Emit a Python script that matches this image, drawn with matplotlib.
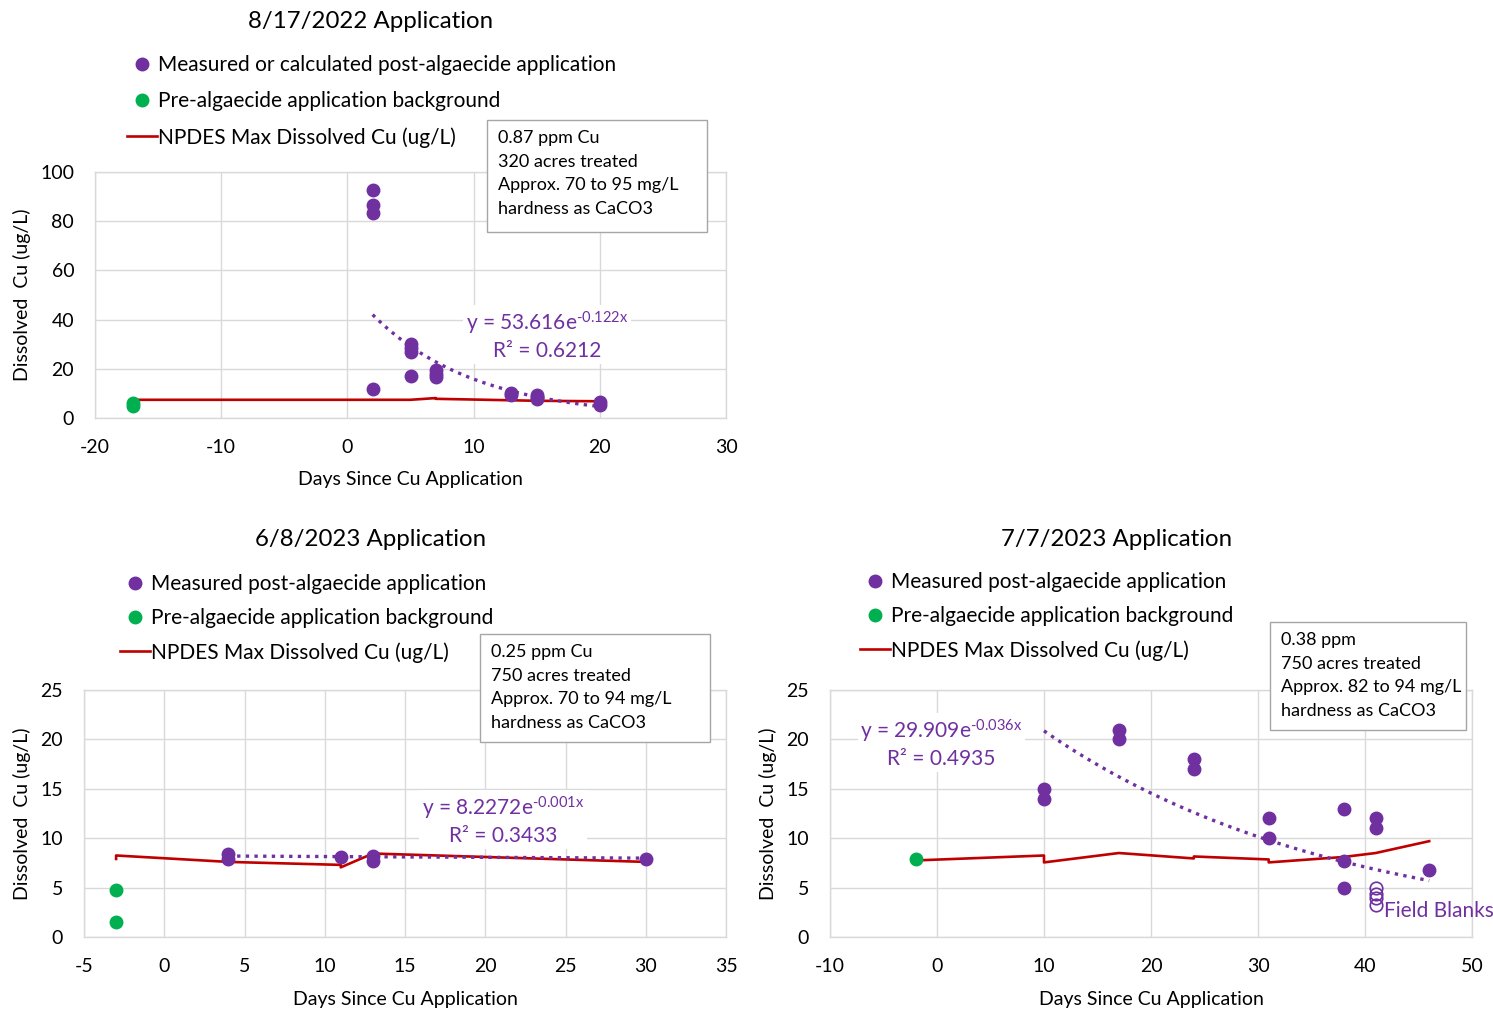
import numpy as np
import matplotlib

matplotlib.use("Agg")
import matplotlib.pyplot as plt
from matplotlib.lines import Line2D
from matplotlib.patches import Rectangle

plt.rcParams["font.family"] = ["Lato", "DejaVu Sans"]
plt.rcParams["mathtext.fontset"] = "custom"
plt.rcParams["mathtext.rm"] = "Lato"
plt.rcParams["mathtext.it"] = "Lato:italic"
plt.rcParams["axes.unicode_minus"] = False

PURPLE = "#7030A0"
GREEN = "#00B050"
RED = "#C00000"
GRID = "#D9D9D9"

# ---- 8/17/2022 application ----
a1_post_x = [2, 2, 2, 2, 5, 5, 5, 5, 7, 7, 7, 13, 13, 15, 15, 15, 20, 20]
a1_post_y = [92.5, 86.5, 83.3, 11.8, 30, 28.5, 27, 17, 19.5, 18, 16.5, 10, 9.5, 9.5, 8.5, 7.8, 6.5, 5.2]
a1_pre_x = [-17, -17]
a1_pre_y = [6.1, 4.8]
a1_npdes_x = [-17, 5, 7, 7, 13, 15, 20]
a1_npdes_y = [7.4, 7.4, 8.1, 7.8, 7.2, 7.0, 6.8]
a1_fit = (53.616, -0.122, 2, 20)
a1_fit_label = "y = 53.616e$^{\\mathrm{\u20100.122x}}$\nR\u00b2 = 0.6212"
a1_note = "0.87 ppm Cu\n320 acres treated\nApprox. 70 to 95 mg/L\nhardness as CaCO3"
a1_labels = ["Measured or calculated post-algaecide application",
             "Pre-algaecide application background",
             "NPDES Max Dissolved Cu (ug/L)"]

# ---- 6/8/2023 application ----
a2_post_x = [4, 4, 11, 13, 13, 30]
a2_post_y = [8.4, 7.9, 8.1, 8.2, 7.7, 7.9]
a2_pre_x = [-3, -3]
a2_pre_y = [4.8, 1.5]
a2_npdes_x = [-3, -3, 4, 11, 11, 13, 30]
a2_npdes_y = [7.9, 8.25, 7.6, 7.3, 7.05, 8.45, 7.6]
a2_fit = (8.2272, -0.001, 4, 30)
a2_fit_label = "y = 8.2272e$^{\\mathrm{\u20100.001x}}$\nR\u00b2 = 0.3433"
a2_note = "0.25 ppm Cu\n750 acres treated\nApprox. 70 to 94 mg/L\nhardness as CaCO3"
a2_labels = ["Measured post-algaecide application",
             "Pre-algaecide application background",
             "NPDES Max Dissolved Cu (ug/L)"]

# ---- 7/7/2023 application ----
a3_post_x = [10, 10, 17, 17, 24, 24, 31, 31, 38, 38, 38, 41, 41, 46]
a3_post_y = [15, 14, 21, 20, 18, 17, 12, 10, 13, 7.7, 5, 12, 11, 6.8]
a3_pre_x = [-2]
a3_pre_y = [7.9]
a3_blank_x = [41, 41, 41, 41]
a3_blank_y = [5.0, 4.4, 3.9, 3.2]
a3_npdes_x = [-2, 10, 10, 17, 24, 24, 31, 31, 38, 41, 46]
a3_npdes_y = [7.75, 8.25, 7.55, 8.5, 7.95, 8.15, 7.85, 7.55, 8.1, 8.5, 9.7]
a3_fit = (29.909, -0.036, 10, 46)
a3_fit_label = "y = 29.909e$^{\\mathrm{\u20100.036x}}$\nR\u00b2 = 0.4935"
a3_note = "0.38 ppm\n750 acres treated\nApprox. 82 to 94 mg/L\nhardness as CaCO3"
a3_labels = a2_labels

W, H = 1493, 1011
fig = plt.figure(figsize=(W / 100, H / 100), dpi=100)


def fx(px):
    return px / W


def fy(py):
    return 1 - py / H


def panel(box, xlim, xstep, ylim, ystep, post, pre, npdes, fit, fit_label, fit_pos,
          title, title_pos, labels, leg_pos, leg_space, note, note_box, ylab_x):
    left, top, right, bottom = box
    ax = fig.add_axes([fx(left), fy(bottom), (right - left) / W, (bottom - top) / H])
    ax.set_xlim(*xlim)
    ax.set_ylim(*ylim)
    ax.set_xticks(np.arange(xlim[0], xlim[1] + 0.1, xstep))
    ax.set_yticks(np.arange(ylim[0], ylim[1] + 0.1, ystep))
    ax.grid(True, color=GRID, linewidth=1.0)
    ax.set_axisbelow(True)
    for s in ax.spines.values():
        s.set_color(GRID)
        s.set_linewidth(1.0)
    ax.tick_params(length=0, labelsize=14, pad=15)

    ax.plot(npdes[0], npdes[1], color=RED, linewidth=1.9, zorder=3)
    ax.plot(post[0], post[1], "o", color=PURPLE, markersize=9, zorder=4)
    ax.plot(pre[0], pre[1], "o", color=GREEN, markersize=9, zorder=4)
    a, b, x0, x1 = fit
    xs = np.linspace(x0, x1, 100)
    ax.plot(xs, a * np.exp(b * xs), linestyle=(0, (1, 1.6)), color=PURPLE,
            linewidth=2.4, zorder=5)
    ax.text(fit_pos[0], fit_pos[1], fit_label, color=PURPLE, fontsize=15,
            ha="center", va="center", linespacing=1.25, zorder=6,
            bbox=dict(facecolor="white", edgecolor="none", pad=2))

    fig.text(fx(title_pos[0]), fy(title_pos[1]), title, fontsize=17.3,
             ha="center", va="center")
    fig.text(fx(ylab_x), fy((top + bottom) / 2), "Dissolved  Cu (ug/L)",
             rotation=90, fontsize=14, ha="center", va="center")
    fig.text(fx((left + right) / 2), fy(bottom + 62), "Days Since Cu Application",
             fontsize=14, ha="center", va="center")

    handles = [
        Line2D([], [], marker="o", linestyle="none", color=PURPLE, markersize=9),
        Line2D([], [], marker="o", linestyle="none", color=GREEN, markersize=9),
        Line2D([], [], color=RED, linewidth=1.9),
    ]
    ax.legend(handles, labels, loc="upper left", bbox_to_anchor=(fx(leg_pos[0]), fy(leg_pos[1])),
              bbox_transform=fig.transFigure, frameon=False, fontsize=15,
              handlelength=1.45, handletextpad=0.05, labelspacing=leg_space, borderpad=0,
              borderaxespad=0)

    nl, nt, nr, nb = note_box
    fig.add_artist(Rectangle((fx(nl), fy(nb)), (nr - nl) / W, (nb - nt) / H,
                             transform=fig.transFigure, facecolor="white",
                             edgecolor="#A6A6A6", linewidth=1.0, zorder=5))
    fig.text(fx(nl + 11), fy(nt + 10), note, fontsize=13, ha="left", va="top",
             linespacing=1.58, zorder=6)
    return ax


panel((95, 172, 726, 418), (-20, 30), 10, (0, 100), 20,
      (a1_post_x, a1_post_y), (a1_pre_x, a1_pre_y), (a1_npdes_x, a1_npdes_y),
      a1_fit, a1_fit_label, (15.8, 33.5), "8/17/2022 Application", (371, 21),
      a1_labels, (127, 55), 0.77, a1_note, (487, 120, 707, 232), 22)

panel((84, 690, 726, 937), (-5, 35), 5, (0, 25), 5,
      (a2_post_x, a2_post_y), (a2_pre_x, a2_pre_y), (a2_npdes_x, a2_npdes_y),
      a2_fit, a2_fit_label, (21.1, 11.8), "6/8/2023 Application", (371, 539),
      a2_labels, (120, 574), 0.67, a2_note, (480, 634, 710, 742), 22)

ax3 = panel((830, 690, 1472, 937), (-10, 50), 10, (0, 25), 5,
            (a3_post_x, a3_post_y), (a3_pre_x, a3_pre_y), (a3_npdes_x, a3_npdes_y),
            a3_fit, a3_fit_label, (0.4, 19.6), "7/7/2023 Application", (1117, 539),
            a3_labels, (860, 572), 0.67, a3_note, (1270, 622, 1466, 730), 768)
ax3.plot(a3_blank_x, a3_blank_y, "o", markerfacecolor="none", markeredgecolor=PURPLE,
         markersize=9, markeredgewidth=1.2, zorder=4)
ax3.text(41.8, 2.65, "Field Blanks", color=PURPLE, fontsize=15, ha="left", va="center",
         clip_on=False)

fig.savefig("out.png", dpi=100)
